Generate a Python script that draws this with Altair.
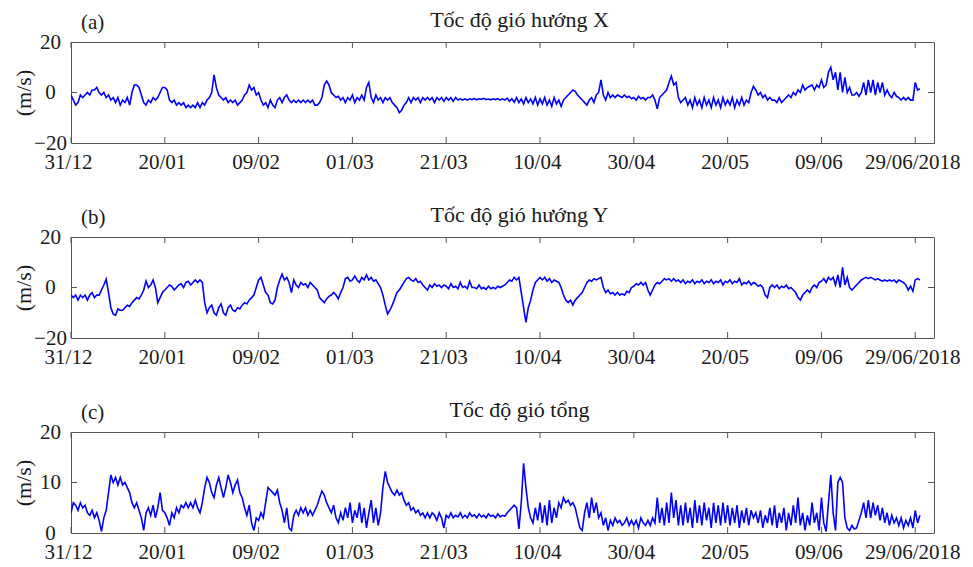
import altair as alt
import pandas as pd

# ---------------- data ----------------
TICK_DAYS = [0, 20, 40, 60, 80, 100, 120, 140, 160, 180]
TICK_LABELS = ["31/12", "20/01", "09/02", "01/03", "21/03", "10/04",
               "30/04", "20/05", "09/06", "29/06/2018"]
TITLES = ["Tốc độ gió hướng X", "Tốc độ gió hướng Y", "Tốc độ gió tổng"]
TAGS = ["(a)", "(b)", "(c)"]
Y_TITLE = "(m/s)"
STEP_DAYS = 0.5  # one value every 12 hours, starting 31/12

# wind speed, X direction (m/s)
wind_x = [
    -1, -3, -5, -4, -1, -2, -1, 0, -1, 1, 1, 2, 0, -1, 0, -2, -1, -3, -2, -4,
    -2, -5, -3, -4, -2, -5, 0, 3, 3, 2, -1, -4, -5, -3, -4, -2, -3, -2, 0, 2,
    2, 1, -3, -4, -3, -5, -4, -5, -4, -6, -5, -6, -5, -6, -4, -6, -4, -5, -3, -2,
    0, 7, 2, -1, -2, -3, -2, -4, -3, -4, -3, -5, -4, -3, -1, 0, 3, 1, 2, -1,
    0, -3, -5, -4, -6, -3, -5, -6, -3, -2, -4, -2, -1, -3, -4, -3, -4, -3, -4, -3,
    -4, -3, -4, -3, -5, -5, -4, -2, 3, 4.5, 3, 0, -1, -2, -1.5, -3, -2, -4, -2, -3,
    -1, -4, -2, -3, -1, -3, 2, 4, -2, -4, -1, -3, -2, -4, -2, -3, -2, -4, -5, -6,
    -8, -7, -5, -4, -2, -4, -2, -3, -2, -4, -2, -3, -2, -3, -2, -4, -2, -3, -2, -3.5,
    -2, -3, -2, -3.5, -2, -3, -2.5, -3, -2.5, -3, -2.5, -2.8, -2.4, -2.9, -2.5, -2.7, -2.3, -2.8, -2.6, -2.9,
    -2.5, -2.8, -2.4, -3, -2.5, -3, -2.2, -3.5, -2.5, -3.8, -2, -4, -2.5, -4.5, -2, -4, -2.5, -4.5, -2, -5,
    -2.5, -4.5, -2, -5, -3, -5.5, -2, -4.5, -3, -5.5, -3, -2, -1, 0, 1, 0.5, -1, -2, -3, -4,
    -5, -3, -2, -4, -1, 0, 5, -1, -3, 0, -2, -1, -2, -1, -1.5, -2, -1, -2, -1.5, -2.5,
    -2, -3, -1.5, -2.5, -2, -3, -2, -2, -1, -3, -6.5, -2, -1, 0, 1, 4, 6.5, 3, 4, -2,
    -4, -3, -2, -5, -3, -6, -2, -5, -3, -6, -2, -5, -3, -6, -2, -5, -3, -6, -2, -5,
    -3, -5, -2, -6, -3, -5, -2, -5, -3, -4, 0, 2.5, 1, -1, 0, -2, -1, -3, -2, -3,
    -3, -4, -2, -4, -3, -2, -1, -2, 0, -1, 1, 0, 3, 1, 2, 2.5, 3, 1, 3, 2,
    5, 2, 3, 8, 10, 5, 8, 1, 8, 0, 6, 0, 2, -1, -1, 0, -1.5, 0, 4, -1,
    5, 0, 5, -1, 4, 0, 4, -1, 1, -1, -2, 0, -1.5, -2, -3, -2, -3, -2, -3, -3,
    4, 1, 1.5,
]

# wind speed, Y direction (m/s)
wind_y = [
    -3, -4, -3, -5, -3, -4, -3, -5, -3, -2, -4, -3, -3, -1, 1, 3.3, -2, -8, -10.5, -11,
    -8.5, -9, -9, -8, -7, -7.5, -6, -5, -4, -4.5, -3, -1, 2.6, 0, 1, 3, 0, -6, -4, -2,
    -1, 0, 1, 0.5, -1, 0, 1, 1.5, 0, 2, 2.5, 1, 2, 3, 2, 3, 2, -6, -10, -8,
    -7, -10, -11, -8, -6.5, -10, -11, -8, -7, -9, -9.5, -8, -8.5, -7, -6, -6.5, -5, -4, -3, 0,
    3, 4, 1, -2, -3, -6, -6.5, -5, 0, 3, 5.3, 3, 4, 2, -2, 3, 1, 0, 2, 1,
    1.5, 0, 2, 1, 0, -1, -4, -5, -6, -4.5, -3.5, -3, -2, -3, -4.5, -2, 0, 3.5, 4, 2.5,
    3, 4.5, 3, 2, 4, 3, 5, 3, 4, 2.5, 3, 1.5, 0, -3, -7, -10.5, -9, -7, -4.5, -2,
    -1, 0.5, 2, 3.5, 4, 3, 2.5, 3.5, 2, 2.5, 1, 0, -1, 1, 0, 1.5, 0.5, 1, 0, 1,
    0.5, -0.5, 1.5, 0, 0.5, -0.5, 2, 0, 0.5, -0.5, 2.5, 0, 0, -0.5, 1, -0.5, 0, -0.7, 0.5, -0.5,
    0, -0.5, 0.5, 0, 0.5, 1, 2, 3, 2.5, 4, 3, 4, -2, -8, -13.8, -8, -5, -1, 2, 3,
    4, 3, 4, 2.5, 3.5, 2, 3, 2.5, 2, 0, -3, -5, -6, -5, -7, -5, -4, -3, -2, 0,
    2, 3, 2.5, 3.5, 3, 3.5, 4, 0, -2, -1, -2.5, -2, -3, -2, -3, -2.5, -3, -1.5, -2, 0,
    0.5, 1.5, 1, 2, 1, 2, -1, -3, -1, 1, 2, 1.5, 2.5, 3.5, 3, 3.5, 2.5, 3.5, 2.5, 3,
    2, 3, 1.5, 2.5, 2, 3, 1.5, 2.5, 2, 3, 1.5, 2.5, 2, 3, 1.5, 2.5, 2, 3, 1, 2.5,
    2, 3, 1.5, 2.5, 2, 3.5, 1, 2, 1.5, 2.5, 1, 2, 1.5, 0.5, 1, 0, -3, -4, 0, 1,
    0, 1, -0.5, 0.5, 0, 1, -0.5, 0, -1, -2, -4, -5, -3, -2, -1, -2, 0, 1, 0, 2,
    2.5, 3.5, 2, 4, 3, 4, 1, 5, 0, 8, 1, 4, 0, -1, 0, 1, 2, 3, 3.5, 4,
    3.5, 4, 3.5, 3, 3.5, 3, 2.5, 3, 2.5, 3, 2.5, 3, 2, 3, 2.5, 2, 1, -1, 0.5, -1.5,
    3, 3.5, 3,
]

# total wind speed (m/s)
wind_s = [
    4, 6, 5.5, 4.5, 6, 5, 5.5, 4, 3.5, 4.5, 3, 4, 2.5, 0.3, 3, 4.5, 8, 11.5, 10, 11,
    9.5, 11, 9.5, 10, 9, 8, 6, 5, 6, 4.5, 3, 0.5, 4, 5, 3.5, 5.5, 3, 5, 8, 4.5,
    4, 3, 1.5, 4, 3, 5, 4, 5.5, 5, 6, 5, 6, 5, 6.5, 5, 4, 6, 9, 11, 10,
    8, 7, 9.5, 11, 9, 7, 9, 11.5, 10, 8, 9.5, 10.5, 8, 7, 5, 3.5, 5.5, 2, 0.5, 3,
    2.5, 4, 3, 6, 9, 8.5, 8, 7.5, 8.5, 6, 4.5, 2, 5, 1, 0.5, 3.5, 4.5, 3.5, 5, 4,
    5, 3.5, 4.5, 3.5, 4.5, 5.5, 7, 8.3, 7.5, 6, 5, 4, 5.5, 3, 2, 4, 2.5, 5, 3, 6,
    2, 4.5, 3, 6, 2, 5, 1, 4, 6.5, 2, 5, 1.5, 4, 9, 12.2, 10, 9, 8, 7.5, 8.5,
    7.5, 8, 6.5, 5.5, 6, 4.5, 5, 4, 4.5, 3.5, 4, 3, 4, 3, 4, 3.5, 2.5, 4, 3, 1,
    3.5, 3, 4, 3, 3.5, 3.2, 4, 3, 3.5, 3, 4, 3.3, 3.6, 3, 3.8, 3.2, 3.5, 3, 3.8, 3.3,
    3.5, 3, 3.8, 3.2, 3.5, 3.3, 4, 4.5, 5, 5.5, 5, 0.8, 6, 13.8, 9, 5, 3, 2, 5, 2.5,
    6, 2, 5.5, 1.5, 6.5, 2, 5, 3, 6, 5, 7, 6, 6.5, 5.5, 6, 5, 3, 1, 0.5, 4,
    6, 3, 7, 4, 6, 3, 4, 1.5, 3, 0.5, 2.5, 1.5, 3, 2, 2.5, 1.5, 2, 3, 1.5, 2.5,
    1.5, 2.5, 1, 3, 2, 1.5, 2.5, 1.5, 3, 2, 7, 2, 5, 1.5, 6, 2, 8, 3, 6.5, 1.5,
    5.5, 1.5, 6, 2, 5, 1, 6.5, 2, 5.5, 1.5, 6, 2.5, 5, 1, 6, 2, 5.5, 1.5, 6, 2,
    5.5, 1.5, 5, 2, 5.5, 1, 4.5, 2, 5, 1.5, 4.5, 3, 4, 2, 4.5, 1, 3.5, 2, 5, 1.5,
    5.5, 1, 4, 2, 5, 0.5, 4, 1.5, 5.5, 2, 7, 1.5, 4, 0.5, 3.5, 1.5, 6, 2, 4, 0.5,
    7, 2, 0.3, 6, 11.5, 4, 0.5, 10, 11, 10, 3, 1, 0.5, 1.5, 0.8, 1, 2.5, 4, 6, 3,
    6.5, 3, 6, 3.5, 5.5, 2.5, 5, 2, 4, 1.5, 3.5, 2, 3, 1.5, 3, 1, 2.5, 1.5, 3, 1,
    4.5, 2, 3.5,
]

SERIES = [wind_x, wind_y, wind_s]
Y_DOMAINS = [[-20, 20], [-20, 20], [0, 20]]
Y_TICKS = [[-20, 0, 20], [-20, 0, 20], [0, 10, 20]]
Y_INNER_TICKS = [[0], [0], [10]]

# ---------------- style ----------------
W, H = 863, 101
FONT = "Liberation Serif"
TXT = "#1a1a1a"
FRAME = "#555555"
LINE = "#0000ff"
TICK_LEN = 6
X_MAX = 184

label_expr = ""
for d, lab in zip(TICK_DAYS, TICK_LABELS):
    label_expr += f"datum.value == {d} ? '{lab}' : "
label_expr += "''"


def panel(values, title, tag, ydom, yticks, yinner):
    df = pd.DataFrame({"day": [i * STEP_DAYS for i in range(len(values))],
                       "v": values})
    xscale = alt.Scale(domain=[0, X_MAX], nice=False, zero=False)
    yscale = alt.Scale(domain=ydom, nice=False, zero=False)
    xaxis = alt.Axis(values=TICK_DAYS, labelExpr=label_expr, ticks=False,
                     tickSize=0, grid=False, domain=False, labelPadding=8,
                     labelOffset=-3, labelFontSize=21, labelFont=FONT, labelColor=TXT,
                     labelOverlap=False, labelFlush=False, labelBaseline="top",
                     title=None)
    yaxis = alt.Axis(values=yticks, ticks=False, tickSize=0, grid=False,
                     domain=False, labelPadding=21, labelAlign="center",
                     labelBaseline="middle", labelFontSize=21, labelFont=FONT,
                     labelColor=TXT, title=Y_TITLE, titleFont=FONT,
                     titleFontSize=22, titleFontWeight="normal", titleColor=TXT,
                     titleX=-48, titleY=H / 2, titleBaseline="middle",
                     titleAngle=270)

    line = alt.Chart(df).mark_line(color=LINE, strokeWidth=1.6, clip=True).encode(
        x=alt.X("day:Q", scale=xscale, axis=xaxis),
        y=alt.Y("v:Q", scale=yscale, axis=yaxis),
    )

    xt = pd.DataFrame({"day": TICK_DAYS})
    yt = pd.DataFrame({"v": yinner})
    top_ticks = alt.Chart(xt).mark_rule(color=FRAME, strokeWidth=1).encode(
        x=alt.X("day:Q", scale=xscale, axis=xaxis),
        y=alt.value(0), y2=alt.value(TICK_LEN))
    bot_ticks = alt.Chart(xt).mark_rule(color=FRAME, strokeWidth=1).encode(
        x=alt.X("day:Q", scale=xscale, axis=xaxis),
        y=alt.value(H - TICK_LEN), y2=alt.value(H))
    left_ticks = alt.Chart(yt).mark_rule(color=FRAME, strokeWidth=1).encode(
        y=alt.Y("v:Q", scale=yscale, axis=yaxis),
        x=alt.value(0), x2=alt.value(TICK_LEN))
    right_ticks = alt.Chart(yt).mark_rule(color=FRAME, strokeWidth=1).encode(
        y=alt.Y("v:Q", scale=yscale, axis=yaxis),
        x=alt.value(W - TICK_LEN), x2=alt.value(W))

    tag_text = alt.Chart(pd.DataFrame({"t": [tag]})).mark_text(
        align="left", baseline="alphabetic", font=FONT, fontSize=21, color=TXT
    ).encode(x=alt.value(10), y=alt.value(-13), text="t:N")
    title_text = alt.Chart(pd.DataFrame({"t": [title]})).mark_text(
        align="center", baseline="alphabetic", font=FONT, fontSize=22, color=TXT
    ).encode(x=alt.value(W / 2 + 17), y=alt.value(-15), text="t:N")

    return alt.layer(line, top_ticks, bot_ticks, left_ticks, right_ticks,
                     tag_text, title_text).properties(width=W, height=H)


panels = [panel(SERIES[i], TITLES[i], TAGS[i], Y_DOMAINS[i], Y_TICKS[i], Y_INNER_TICKS[i])
          for i in range(3)]

chart = alt.vconcat(*panels, spacing=30).properties(
    padding={"left": 3, "top": 0, "right": 0, "bottom": 0}
).configure_view(stroke=FRAME, strokeWidth=1)

chart.save("out.html", embed_options={"renderer": "svg", "actions": False})
